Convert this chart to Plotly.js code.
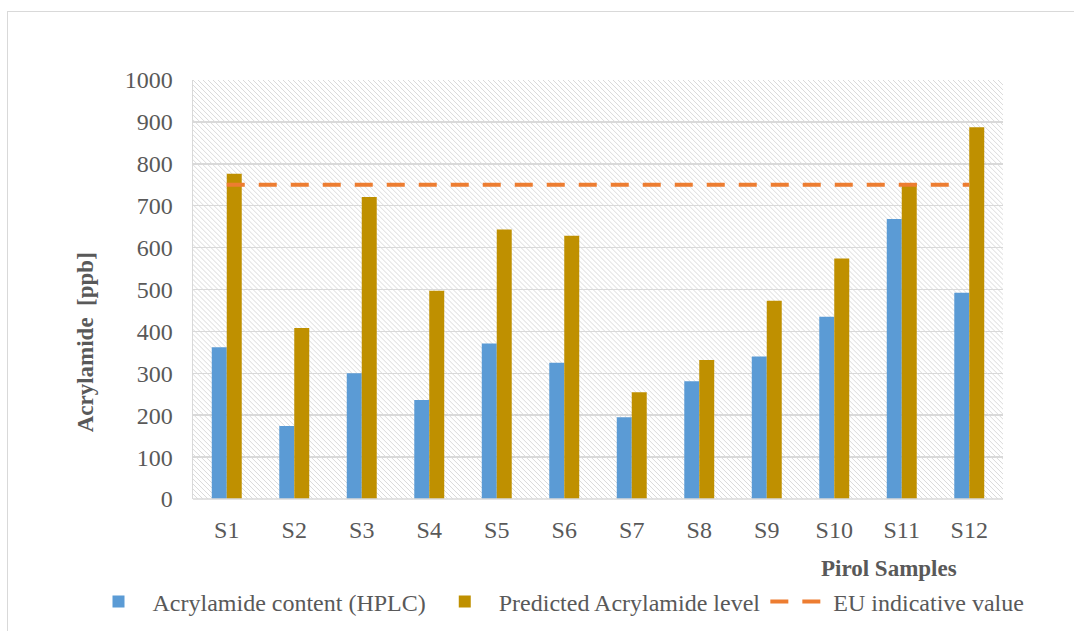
<!DOCTYPE html>
<html>
<head>
<meta charset="utf-8">
<script src="https://cdn.plot.ly/plotly-3.0.1.min.js"></script>
<style>
  html, body { margin: 0; padding: 0; background: #ffffff; overflow: hidden; }
  #wrap { position: relative; width: 1074px; height: 631px; overflow: hidden; }
  #frame { position: absolute; left: 7px; top: 11px; width: 1080px; height: 640px; border: 1.5px solid #d9d9d9; box-sizing: border-box; pointer-events: none; z-index: 5; }
  #chart { position: absolute; left: 0; top: 0; width: 1074px; height: 635px; }
</style>
</head>
<body>
<div id="wrap">
  <div id="chart"></div>
  <div id="frame"></div>
</div>
<script>
// ---- data ----
const samples = ["S1","S2","S3","S4","S5","S6","S7","S8","S9","S10","S11","S12"];
const hplcContent = [362, 174, 300, 236, 371, 325, 195, 281, 340, 435, 668, 492];
const predictedLevel = [776, 408, 721, 497, 643, 628, 255, 332, 473, 574, 754, 887];
const euIndicative = [750, 750, 750, 750, 750, 750, 750, 750, 750, 750, 750, 750];
const yTicks = [0, 100, 200, 300, 400, 500, 600, 700, 800, 900, 1000];

const seriesNames = ["Acrylamide content (HPLC)", "Predicted Acrylamide level", "EU indicative value"];
const yTitle = "Acrylamide  [ppb]";
const xTitle = "Pirol Samples";

// ---- style ----
const FONT = "Liberation Serif, Times New Roman, serif";
const TXT = "#595959";
const GRID = "#d9d9d9";

// boundary positions for vertical gridlines between categories
const boundaries = [];
for (let i = 0; i <= samples.length; i++) boundaries.push(i - 0.5);

const hatchSvg =
  '<svg xmlns="http://www.w3.org/2000/svg" width="810" height="420">' +
  '<defs><pattern id="h" width="5" height="5" patternUnits="userSpaceOnUse">' +
  '<path d="M-1,-1 L6,6 M-1,4 L1,6 M4,-1 L6,1" stroke="#dadada" stroke-width="1"/>' +
  '</pattern></defs><rect width="810" height="420" fill="#ffffff"/>' +
  '<rect width="810" height="420" fill="url(#h)"/></svg>';

const traces = [
  {
    type: "bar", name: seriesNames[0], x: samples, y: hplcContent,
    marker: { color: "#5b9bd5" }, hoverinfo: "x+y"
  },
  {
    type: "bar", name: seriesNames[1], x: samples, y: predictedLevel,
    marker: { color: "#bf9000" }, hoverinfo: "x+y"
  },
  {
    type: "scatter", mode: "lines", name: seriesNames[2], x: samples, y: euIndicative,
    line: { color: "#ed7d31", width: 4, dash: "18px,14px" }, hoverinfo: "x+y"
  }
];

const layout = {
  width: 1074, height: 635,
  margin: { l: 193, r: 71, t: 80, b: 135 },
  paper_bgcolor: "rgba(0,0,0,0)",
  plot_bgcolor: "#ffffff",
  font: { family: FONT, color: TXT, size: 24 },
  barmode: "group",
  bargap: 0.556,
  bargroupgap: 0,
  showlegend: true,
  legend: {
    orientation: "h",
    x: (84.5 - 193) / 810, xanchor: "left",
    y: (500 - 602) / 420, yanchor: "middle",
    font: { family: FONT, color: TXT, size: 24 },
    bgcolor: "rgba(0,0,0,0)",
    itemwidth: 58,
    tracegroupgap: 0
  },
  xaxis: {
    type: "category",
    range: [-0.5, 11.5],
    showgrid: false,
    zeroline: false,
    showline: false,
    ticks: "",
    ticklabelstandoff: 14,
    tickfont: { family: FONT, color: TXT, size: 24 },
    automargin: false,
    fixedrange: true
  },
  xaxis2: {
    overlaying: "x",
    anchor: "y",
    side: "bottom",
    type: "linear",
    range: [-0.5, 11.5],
    tickmode: "array",
    tickvals: boundaries,
    showticklabels: false,
    showgrid: true,
    gridcolor: GRID,
    gridwidth: 1.5,
    zeroline: false,
    showline: false,
    ticks: "outside",
    ticklen: 7,
    tickwidth: 1.5,
    tickcolor: GRID,
    automargin: false,
    fixedrange: true
  },
  yaxis: {
    range: [0, 1000],
    tickmode: "array",
    tickvals: yTicks,
    showgrid: true,
    gridcolor: GRID,
    gridwidth: 1.5,
    zeroline: false,
    showline: true,
    linecolor: GRID,
    linewidth: 1.5,
    mirror: false,
    ticks: "",
    ticklabelstandoff: 14,
    tickfont: { family: FONT, color: TXT, size: 24 },
    automargin: false,
    fixedrange: true
  },
  images: [{
    source: "data:image/svg+xml;charset=utf-8," + encodeURIComponent(hatchSvg),
    xref: "paper", yref: "paper",
    x: 0, y: 1, sizex: 1, sizey: 1,
    xanchor: "left", yanchor: "top",
    sizing: "stretch",
    layer: "below"
  }],
  shapes: [{
    type: "line", xref: "paper", yref: "paper",
    x0: 0, x1: 1, y0: 0, y1: 0,
    line: { color: GRID, width: 1.5 }
  }],
  annotations: [
    {
      text: "<b>" + xTitle + "</b>",
      xref: "paper", yref: "paper",
      x: (889 - 193) / 810, y: (500 - 570) / 420,
      xanchor: "center", yanchor: "middle",
      showarrow: false,
      font: { family: FONT, color: TXT, size: 23 }
    },
    {
      text: "<b>" + yTitle + "</b>",
      xref: "paper", yref: "paper",
      x: (85 - 193) / 810, y: (500 - 343) / 420,
      xanchor: "center", yanchor: "middle",
      textangle: -90,
      showarrow: false,
      font: { family: FONT, color: TXT, size: 23 }
    }
  ]
};

Plotly.newPlot("chart", traces, layout, { displayModeBar: false, staticPlot: true });
</script>
</body>
</html>
